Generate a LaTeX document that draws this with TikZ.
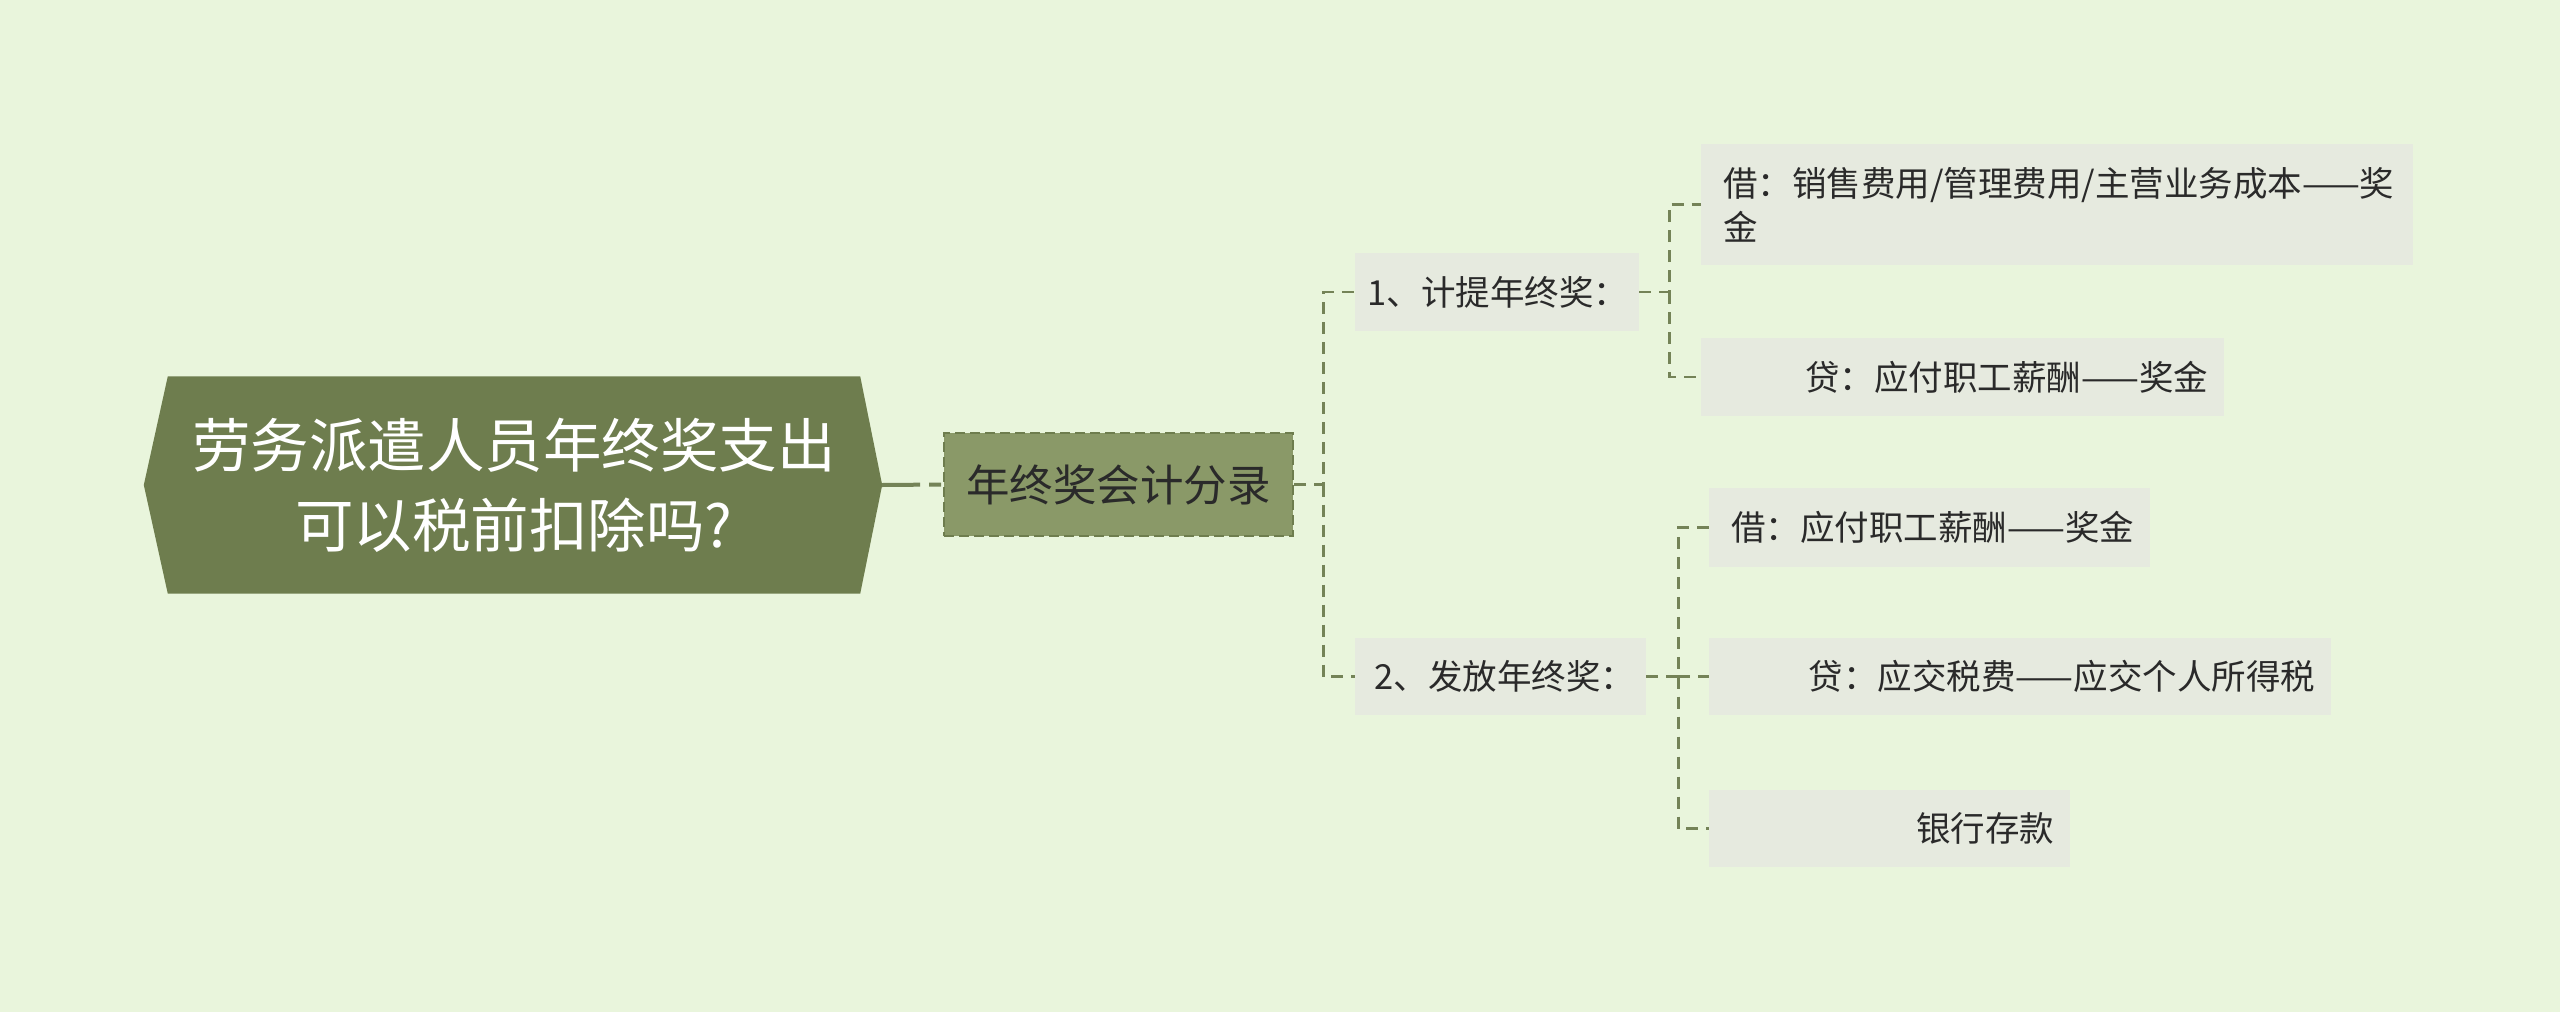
\documentclass[tikz,border=0pt]{standalone}
\usepackage{fontspec}
\newfontfamily\cjk{Noto Sans CJK SC}
\usetikzlibrary{calc}
\definecolor{bg}{HTML}{E9F5DC}
\definecolor{rootfill}{HTML}{6E7D4E}
\definecolor{midfill}{HTML}{8A9968}
\definecolor{boxfill}{HTML}{E6EADF}
\definecolor{linec}{HTML}{748357}
\definecolor{txt}{HTML}{2A2A2A}
\begin{document}
\begin{tikzpicture}[x=1pt,y=-1pt,
  box/.style={fill=boxfill, draw=none, inner sep=0pt, font=\cjk\fontsize{34.5}{44}\selectfont, text=txt, align=right},
  conn/.style={draw=linec, line width=2.8pt, dash pattern=on 12pt off 8pt}]
\fill[bg] (0,0) rectangle (2560,1012);
\useasboundingbox (0,0) rectangle (2560,1012);

% root
\node[inner sep=0pt, minimum width=692pt, minimum height=217pt] (root) at (514,485) {};
\fill[rootfill] (root.north west) -- (root.north east) -- ($(root.east)+(22,0)$) -- (root.south east) -- (root.south west) -- ($(root.west)+(-24,0)$) -- cycle;
\node[text=white, font=\cjk\fontsize{58.5}{80}\selectfont, align=center] (roottext) at (root.center) {劳务派遣人员年终奖支出\\可以税前扣除吗?};

% second level
\node[fill=midfill, draw=rootfill, line width=2.5pt, dash pattern=on 10pt off 5pt, minimum width=349pt, minimum height=103pt, inner sep=0pt, font=\cjk\fontsize{43.5}{50}\selectfont, text=txt] (mid) at (1118.5,484.5) {年终奖会计分录};

% third level
\node[box, minimum width=284pt, minimum height=78pt, text width=262pt] (n1) at (1497,292) {1、计提年终奖：};
\node[box, minimum width=291pt, minimum height=77pt, text width=269pt] (n2) at (1500.5,676.5) {2、发放年终奖：};

% fourth level
\node[box, minimum width=712pt, minimum height=121pt, text width=668pt, align=left] (a1) at (2057,204.5) {\mbox{借：销售费用/管理费用/主营业务成本——奖}\\金};
\node[box, minimum width=523pt, minimum height=78pt, text width=491pt] (a2) at (1962.5,377) {贷：应付职工薪酬——奖金};
\node[box, minimum width=441pt, minimum height=79pt, text width=409pt] (b1) at (1929.5,527.5) {借：应付职工薪酬——奖金};
\node[box, minimum width=622pt, minimum height=77pt, text width=590pt] (b2) at (2020,676.5) {贷：应交税费——应交个人所得税};
\node[box, minimum width=361pt, minimum height=77pt, text width=329pt] (b3) at (1889.5,828.5) {银行存款};

% connectors
\draw[draw=linec, line width=4pt, dash pattern=on 38pt off 9pt on 12pt off 9pt] ($(root.east)+(22,0)$) -- (mid.west);
\coordinate (j1) at ($(mid.east)+(29,0)$);
\draw[conn] (mid.east) -- (j1) |- (n1.west);
\draw[conn] (j1) |- (n2.west);
\coordinate (j2) at ($(n1.east)+(30,0)$);
\draw[conn] (n1.east) -- (j2) |- (a1.west);
\draw[conn] (j2) |- (a2.west);
\coordinate (j3) at ($(n2.east)+(32,0)$);
\draw[conn] (n2.east) -- (j3) |- (b1.west);
\draw[conn] (j3) |- (b2.west);
\draw[conn] (j3) |- (b3.west);
\end{tikzpicture}
\end{document}
